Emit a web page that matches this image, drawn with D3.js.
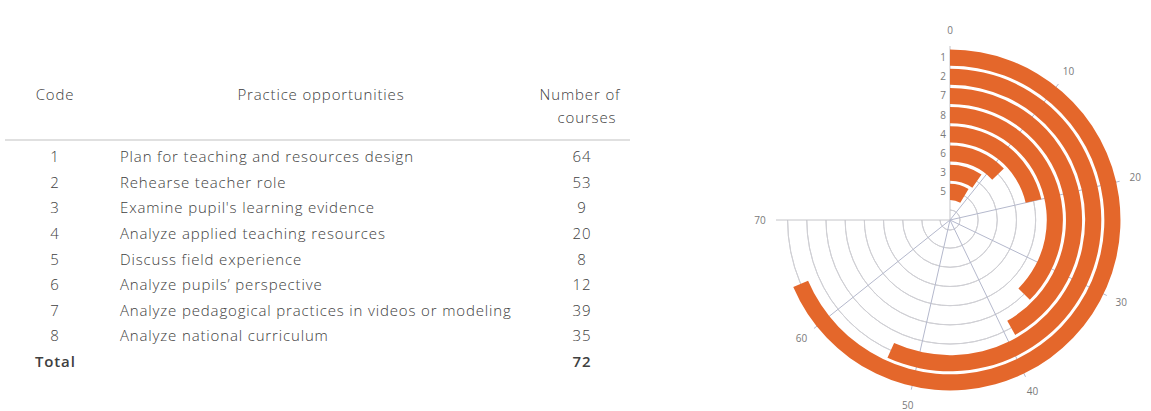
<!DOCTYPE html>
<html>
<head>
<meta charset="utf-8">
<script src="https://cdn.jsdelivr.net/npm/d3@7"></script>
<style>
  html, body { margin: 0; padding: 0; background: #fff; }
  svg { display: block; }
</style>
</head>
<body>
<svg id="chart" width="1151" height="411"></svg>
<script>
// Practice opportunities offered across the courses
const codes = ["1", "2", "3", "4", "5", "6", "7", "8"];
const practices = [
  "Plan for teaching and resources design",
  "Rehearse teacher role",
  "Examine pupil's learning evidence",
  "Analyze applied teaching resources",
  "Discuss field experience",
  "Analyze pupils’ perspective",
  "Analyze pedagogical practices in videos or modeling",
  "Analyze national curriculum"
];
const courses = [64, 53, 9, 20, 8, 12, 39, 35];
const totalCourses = 72;
const angleTicks = [0, 10, 20, 30, 40, 50, 60, 70];

const svg = d3.select("#chart");
const textColor = "#404040";
const font = "'Open Sans', 'Segoe UI', sans-serif";

// ---------- Table ----------
const table = svg.append("g")
  .attr("font-family", font)
  .attr("font-size", 15)
  .attr("font-weight", 300)
  .attr("letter-spacing", 0.85)
  .attr("fill", textColor);

const col = { code: 55, label: 120, practiceHead: 321, count: 582 };

table.append("text").attr("x", col.code).attr("y", 100)
  .attr("text-anchor", "middle").text("Code");
table.append("text").attr("x", col.practiceHead).attr("y", 100)
  .attr("text-anchor", "middle").text("Practice opportunities");
table.append("text").attr("x", 580).attr("y", 100)
  .attr("text-anchor", "middle").text("Number of");
table.append("text").attr("x", 587).attr("y", 123)
  .attr("text-anchor", "middle").text("courses");

table.append("line")
  .attr("x1", 5).attr("x2", 630).attr("y1", 140).attr("y2", 140)
  .attr("stroke", "#d6d6d6").attr("stroke-width", 1.5);

const rowY = d3.scalePoint()
  .domain(codes.concat(["Total"]))
  .range([162, 367]);

const rows = table.selectAll("g.row")
  .data(codes.map((c, i) => ({ code: c, label: practices[i], n: courses[i] })))
  .join("g").attr("class", "row")
  .attr("transform", d => `translate(0,${rowY(d.code)})`);

rows.append("text").attr("x", col.code).attr("text-anchor", "middle").text(d => d.code);
rows.append("text").attr("x", col.label).text(d => d.label);
rows.append("text").attr("x", col.count).attr("text-anchor", "middle").text(d => d.n);

const totalRow = table.append("g")
  .attr("transform", `translate(0,${rowY("Total")})`)
  .attr("font-weight", 600);
totalRow.append("text").attr("x", 35).text("Total");
totalRow.append("text").attr("x", col.count).attr("text-anchor", "middle").text(totalCourses);

// ---------- Radial bar chart ----------
const cx = 950, cy = 220;
const outerR = 172;
const polar = svg.append("g").attr("transform", `translate(${cx},${cy})`);

// rings ordered from the largest count outward
const ranked = codes.map((c, i) => ({ code: c, n: courses[i] }))
  .sort((a, b) => a.n - b.n);

const angle = d3.scaleLinear().domain([0, 70]).range([0, 1.5 * Math.PI]);
const radius = d3.scaleBand()
  .domain(ranked.map(d => d.code))
  .range([18.5, outerR])
  .paddingInner(0.16)
  .paddingOuter(0.08);

const maxAngle = angle(70);

// ring grid lines through each band centre
const ringRadii = [10].concat(radius.domain().map(c => radius(c) + radius.bandwidth() / 2));
polar.append("g").selectAll("path")
  .data(ringRadii)
  .join("path")
  .attr("d", r => d3.arc()({ innerRadius: r, outerRadius: r, startAngle: 0, endAngle: maxAngle }))
  .attr("fill", "none")
  .attr("stroke", "#cfcfd4")
  .attr("stroke-width", 1);

// spokes for each angular tick
polar.append("g").selectAll("line")
  .data(angleTicks)
  .join("line")
  .attr("x1", 0).attr("y1", 0)
  .attr("x2", d => Math.sin(angle(d)) * (outerR + 2))
  .attr("y2", d => -Math.cos(angle(d)) * (outerR + 2))
  .attr("stroke", d => (d === 0 || d === 70) ? "#c4c4c8" : "#b4b8cc")
  .attr("stroke-width", 1);

// bars
const arc = d3.arc()
  .innerRadius(d => radius(d.code))
  .outerRadius(d => radius(d.code) + radius.bandwidth())
  .startAngle(0)
  .endAngle(d => angle(d.n));

polar.append("g").selectAll("path")
  .data(ranked)
  .join("path")
  .attr("d", arc)
  .attr("fill", "#e4672b");

// category labels along the zero spoke
polar.append("g")
  .attr("font-family", font)
  .attr("font-size", 10)
  .attr("fill", "#7a7a7a")
  .selectAll("text")
  .data(ranked)
  .join("text")
  .attr("x", -4)
  .attr("y", d => -(radius(d.code) + radius.bandwidth() / 2))
  .attr("dy", "0.35em")
  .attr("text-anchor", "end")
  .text(d => d.code);

// angular tick labels
const labelR = 190;
polar.append("g")
  .attr("font-family", font)
  .attr("font-size", 10)
  .attr("fill", "#7a7a7a")
  .selectAll("text")
  .data(angleTicks)
  .join("text")
  .attr("x", d => Math.sin(angle(d)) * labelR)
  .attr("y", d => -Math.cos(angle(d)) * labelR)
  .attr("dy", "0.35em")
  .attr("text-anchor", "middle")
  .text(d => d);
</script>
</body>
</html>
